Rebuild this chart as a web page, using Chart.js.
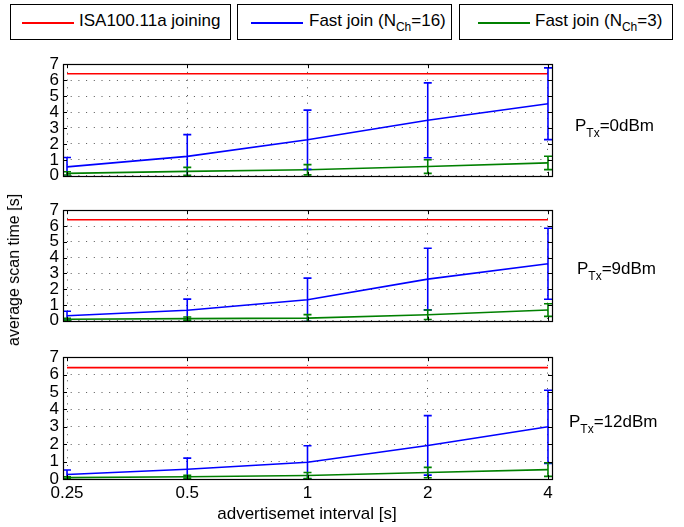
<!DOCTYPE html>
<html>
<head>
<meta charset="utf-8">
<script src="https://cdn.jsdelivr.net/npm/chart.js@4.4.0/dist/chart.umd.min.js"></script>
<style>
  html, body { margin:0; padding:0; background:#fff; }
  body { width:684px; height:527px; position:relative; overflow:hidden; font-family:"Liberation Sans", Arial, sans-serif; color:#000; }
  canvas { position:absolute; left:0; }
  .lbox { position:absolute; top:4px; height:36px; border:1px solid #000; box-sizing:border-box; background:#fff; }
  .lline { position:absolute; top:17px; height:2px; }
  .ltext { position:absolute; top:6px; font-size:17px; white-space:nowrap; }
  .ltext sub { font-size:12px; vertical-align:-5px; line-height:0; }
  .plab { position:absolute; font-size:17px; white-space:nowrap; }
  .plab sub { font-size:12px; vertical-align:-6px; line-height:0; }
  .ytitle { position:absolute; left:14px; top:270px; transform:translate(-50%,-50%) rotate(-90deg); font-size:16px; white-space:nowrap; }
  .xtitle { position:absolute; left:307px; top:514px; transform:translate(-50%,-50%); font-size:17px; white-space:nowrap; }
</style>
</head>
<body>
<div class="lbox" style="left:10px;width:221px;"><div class="lline" style="left:11px;width:52px;background:#ff0000;"></div><div class="ltext" style="left:68px;">ISA100.11a joining</div></div>
<div class="lbox" style="left:237px;width:215px;"><div class="lline" style="left:13px;width:52px;background:#0000ff;"></div><div class="ltext" style="left:71px;">Fast join (N<sub>Ch</sub>=16)</div></div>
<div class="lbox" style="left:459px;width:214px;"><div class="lline" style="left:18px;width:52px;background:#008000;"></div><div class="ltext" style="left:75px;">Fast join (N<sub>Ch</sub>=3)</div></div>

<canvas id="c0"></canvas>
<canvas id="c1"></canvas>
<canvas id="c2"></canvas>

<div class="plab" style="left:575px;top:116px;">P<sub>Tx</sub>=0dBm</div>
<div class="plab" style="left:577px;top:259px;">P<sub>Tx</sub>=9dBm</div>
<div class="plab" style="left:569px;top:412px;">P<sub>Tx</sub>=12dBm</div>

<div class="ytitle">average scan time [s]</div>
<div class="xtitle">advertisemet interval [s]</div>

<script>
// ---- data ----
const xCats = [0.25, 0.5, 1, 2, 4];          // advertisement interval [s]
const yTickValues = [0, 1, 2, 3, 4, 5, 6, 7];
const panelLabels = ["PTx=0dBm", "PTx=9dBm", "PTx=12dBm"];

const isaJoining = [6.4, 6.4, 6.4, 6.4, 6.4];

// P_Tx = 0 dBm
const fast16_0dBm     = [0.56, 1.22, 2.26, 3.48, 4.52];
const fast16_0dBm_err = [0.59, 1.36, 1.86, 2.35, 2.25];
const fast3_0dBm      = [0.15, 0.28, 0.38, 0.58, 0.81];
const fast3_0dBm_err  = [0.10, 0.25, 0.32, 0.43, 0.42];

// P_Tx = 9 dBm
const fast16_9dBm     = [0.32, 0.67, 1.33, 2.64, 3.61];
const fast16_9dBm_err = [0.28, 0.70, 1.37, 1.95, 2.25];
const fast3_9dBm      = [0.10, 0.14, 0.17, 0.38, 0.68];
const fast3_9dBm_err  = [0.06, 0.10, 0.22, 0.30, 0.40];

// P_Tx = 12 dBm
const fast16_12dBm     = [0.26, 0.56, 0.96, 1.93, 3.00];
const fast16_12dBm_err = [0.26, 0.64, 0.95, 1.71, 2.10];
const fast3_12dBm      = [0.08, 0.13, 0.20, 0.37, 0.54];
const fast3_12dBm_err  = [0.05, 0.08, 0.17, 0.30, 0.39];

// ---- layout ----
const panels = [
  { id:"c0", plotTop:62,  plotBottom:186, bottomH:4,  showX:false, b:fast16_0dBm,  be:fast16_0dBm_err,  g:fast3_0dBm,  ge:fast3_0dBm_err },
  { id:"c1", plotTop:208, plotBottom:331, bottomH:4,  showX:false, b:fast16_9dBm,  be:fast16_9dBm_err,  g:fast3_9dBm,  ge:fast3_9dBm_err },
  { id:"c2", plotTop:355, plotBottom:479, bottomH:28, showX:true,  b:fast16_12dBm, be:fast16_12dBm_err, g:fast3_12dBm, ge:fast3_12dBm_err }
];
const PAD_TOP = 12, LEFT_W = 63, RIGHT_PAD = 132;
const FONT = { family: "'Liberation Sans', Arial, sans-serif", size: 17 };

const pts = arr => xCats.map((c, i) => ({ x: c, y: arr[i] }));

const errorBars = {
  id: "errorBars",
  afterDatasetsDraw(chart) {
    const { ctx, chartArea: a, scales: { x, y } } = chart;
    ctx.save();
    ctx.beginPath();
    ctx.rect(a.left, a.top - 1, a.right - a.left, a.bottom - a.top + 2);
    ctx.clip();
    chart.data.datasets.forEach(ds => {
      if (!ds.errors) return;
      ctx.strokeStyle = ds.borderColor;
      ctx.lineWidth = 1.6;
      ds.data.forEach((p, i) => {
        const e = ds.errors[i];
        const px = x.getPixelForValue(p.x);
        const hi = y.getPixelForValue(p.y + e);
        const lo = y.getPixelForValue(p.y - e);
        ctx.beginPath();
        ctx.moveTo(px, hi); ctx.lineTo(px, lo);
        ctx.moveTo(px - 4, hi); ctx.lineTo(px + 4, hi);
        ctx.moveTo(px - 4, lo); ctx.lineTo(px + 4, lo);
        ctx.stroke();
      });
    });
    ctx.restore();
  }
};

const boxAndTicks = {
  id: "boxAndTicks",
  afterDraw(chart) {
    const { ctx, chartArea: a, scales: { x, y } } = chart;
    ctx.save();
    ctx.strokeStyle = "#000";
    ctx.lineWidth = 1;
    ctx.beginPath();
    x.ticks.forEach(t => {
      const px = Math.round(x.getPixelForValue(t.value)) + 0.5;
      ctx.moveTo(px, a.top); ctx.lineTo(px, a.top + 4);
      ctx.moveTo(px, a.bottom); ctx.lineTo(px, a.bottom - 4);
    });
    y.ticks.forEach(t => {
      const py = Math.round(y.getPixelForValue(t.value)) + 0.5;
      ctx.moveTo(a.left, py); ctx.lineTo(a.left + 4, py);
      ctx.moveTo(a.right, py); ctx.lineTo(a.right - 4, py);
    });
    ctx.stroke();
    ctx.lineWidth = 1.2;
    ctx.strokeRect(Math.round(a.left) + 0.5, Math.round(a.top) + 0.5,
                   Math.round(a.right - a.left), Math.round(a.bottom - a.top));
    ctx.restore();
  }
};

panels.forEach(p => {
  const cv = document.getElementById(p.id);
  const h = (p.plotBottom - p.plotTop) + PAD_TOP + p.bottomH;
  cv.style.top = (p.plotTop - PAD_TOP) + "px";
  cv.style.width = "684px";
  cv.style.height = h + "px";
  cv.width = 684; cv.height = h;

  new Chart(cv, {
    type: "line",
    data: {
      datasets: [
        { label: "ISA100.11a joining", data: pts(isaJoining), borderColor: "#ff0000", borderWidth: 1.6, pointRadius: 0, tension: 0 },
        { label: "Fast join (NCh=16)", data: pts(p.b), errors: p.be, borderColor: "#0000ff", borderWidth: 1.6, pointRadius: 0, tension: 0 },
        { label: "Fast join (NCh=3)", data: pts(p.g), errors: p.ge, borderColor: "#008000", borderWidth: 1.6, pointRadius: 0, tension: 0 }
      ]
    },
    options: {
      responsive: false,
      animation: false,
      devicePixelRatio: 1,
      layout: { padding: { top: PAD_TOP, right: RIGHT_PAD, left: 0, bottom: 0 } },
      plugins: { legend: { display: false }, tooltip: { enabled: false } },
      scales: {
        x: {
          type: "logarithmic",
          min: 0.25 * Math.pow(2, -1 / 30),
          max: 4 * Math.pow(2, 1 / 30),
          afterBuildTicks: s => { s.ticks = xCats.map(v => ({ value: v })); },
          afterFit: s => { s.height = p.bottomH; },
          ticks: { display: p.showX, autoSkip: false, maxRotation: 0, color: "#000", font: FONT, padding: 4,
                   callback: v => String(v) },
          grid: { color: "#555", lineWidth: 1, drawTicks: false },
          border: { display: false, dash: [1, 6.7] }
        },
        y: {
          type: "linear",
          min: 0, max: 7,
          afterBuildTicks: s => { s.ticks = yTickValues.map(v => ({ value: v })); },
          afterFit: s => { s.width = LEFT_W; },
          ticks: { color: "#000", font: FONT, padding: 4, autoSkip: false },
          grid: { color: "#555", lineWidth: 1, drawTicks: false },
          border: { display: false, dash: [1, 6.7] }
        }
      }
    },
    plugins: [errorBars, boxAndTicks]
  });
});
</script>
</body>
</html>
